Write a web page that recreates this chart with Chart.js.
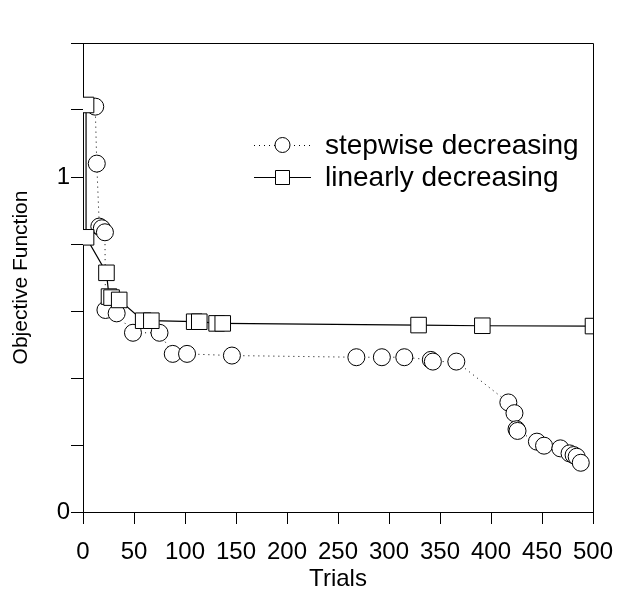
<!DOCTYPE html>
<html>
<head>
<meta charset="utf-8">
<script src="https://cdn.jsdelivr.net/npm/chart.js@4/dist/chart.umd.min.js"></script>
<style>
  html, body { margin: 0; padding: 0; background: #fff; }
  #wrap { width: 622px; height: 597px; }
</style>
</head>
<body>
<div id="wrap"><canvas id="c" width="622" height="597"></canvas></div>
<script>
// Data
const stepTrials = [12, 13.5, 16, 18.5, 21.5, 22, 33, 49, 75, 88, 102, 146, 268, 293, 315, 341, 343, 366, 417, 423, 425, 426, 445, 452, 468, 477, 481, 484, 488];
const stepValues = [1.21, 1.04, 0.852, 0.847, 0.835, 0.603, 0.593, 0.535, 0.535, 0.472, 0.472, 0.467, 0.462, 0.462, 0.462, 0.454, 0.449, 0.449, 0.327, 0.295, 0.247, 0.242, 0.21, 0.198, 0.19, 0.175, 0.17, 0.165, 0.147];
const linTrials = [3, 3, 23, 25.5, 28, 35.5, 59, 67, 109, 114, 131, 137, 329, 391.5, 500];
const linValues = [1.215, 0.82, 0.714, 0.643, 0.64, 0.633, 0.571, 0.571, 0.568, 0.568, 0.563, 0.563, 0.558, 0.556, 0.555];
const seriesNames = ["stepwise decreasing", "linearly decreasing"];
const xTitle = "Trials";
const yTitle = "Objective Function";
const yLabelled = [0, 1];

const FONT = "'Liberation Sans', Arial, Helvetica, sans-serif";

const toXY = (xs, ys) => xs.map((x, i) => ({ x: x, y: ys[i] }));

const boxPlugin = {
  id: 'box',
  afterDraw(chart) {
    const a = chart.chartArea, ctx = chart.ctx;
    ctx.save();
    ctx.strokeStyle = '#000';
    ctx.lineWidth = 1;
    ctx.beginPath();
    ctx.moveTo(a.left, a.top + 0.5);
    ctx.lineTo(a.right + 0.5, a.top + 0.5);
    ctx.lineTo(a.right + 0.5, a.bottom);
    ctx.stroke();
    ctx.restore();
  }
};

const legendPlugin = {
  id: 'customLegend',
  afterDraw(chart) {
    const ctx = chart.ctx;
    ctx.save();
    const rows = [
      { y: 145, dash: [1, 4], style: 'circle' },
      { y: 177, dash: [], style: 'rect' }
    ];
    rows.forEach((r, i) => {
      ctx.strokeStyle = '#000';
      ctx.lineWidth = 1;
      ctx.setLineDash(r.dash);
      ctx.beginPath();
      ctx.moveTo(254, r.y + 0.5);
      ctx.lineTo(311, r.y + 0.5);
      ctx.stroke();
      ctx.setLineDash([]);
      ctx.fillStyle = '#fff';
      ctx.beginPath();
      if (r.style === 'circle') {
        ctx.arc(282.5, r.y, 7.5, 0, Math.PI * 2);
      } else {
        ctx.rect(275.5, r.y - 6.5, 14, 14);
      }
      ctx.fill();
      ctx.stroke();
      ctx.fillStyle = '#000';
      ctx.font = '28px ' + FONT;
      ctx.textBaseline = 'middle';
      ctx.textAlign = 'left';
      ctx.fillText(seriesNames[i], 325, r.y + 1);
    });
    ctx.restore();
  }
};

new Chart(document.getElementById('c'), {
  type: 'line',
  data: {
    datasets: [
      {
        label: seriesNames[1],
        data: toXY(linTrials, linValues),
        borderColor: '#000',
        borderWidth: 1.2,
        pointStyle: 'rect',
        pointRadius: 11,
        pointBackgroundColor: '#fff',
        pointBorderColor: '#000',
        pointBorderWidth: 1,
        tension: 0,
        fill: false
      },
      {
        label: seriesNames[0],
        data: toXY(stepTrials, stepValues),
        borderColor: '#000',
        borderWidth: 1,
        borderDash: [1, 4],
        pointStyle: 'circle',
        pointRadius: 8.5,
        pointBackgroundColor: '#fff',
        pointBorderColor: '#000',
        pointBorderWidth: 1,
        tension: 0,
        fill: false
      }
    ]
  },
  options: {
    responsive: false,
    animation: false,
    devicePixelRatio: 1,
    layout: { padding: { left: 0, top: 43, right: 29, bottom: 0 } },
    plugins: { legend: { display: false }, tooltip: { enabled: false } },
    scales: {
      x: {
        type: 'linear',
        min: 0, max: 500,
        afterFit(s) { s.height = 85; s.paddingLeft = 0; s.paddingRight = 0; },
        ticks: { stepSize: 50, color: '#000', font: { family: FONT, size: 24 }, padding: 14, maxRotation: 0, autoSkip: false },
        grid: { drawOnChartArea: false, tickLength: 12, color: '#000', tickWidth: 1 },
        border: { display: true, color: '#000', width: 1 },
        title: { display: true, text: xTitle, color: '#000', font: { family: FONT, size: 24 }, padding: { top: 0, bottom: 3 } }
      },
      y: {
        type: 'linear',
        min: 0, max: 1.4,
        afterFit(s) { s.width = 83; s.paddingTop = 0; s.paddingBottom = 0; },
        ticks: {
          stepSize: 0.2, color: '#000', font: { family: FONT, size: 24 }, padding: 1, autoSkip: false,
          callback: (v) => yLabelled.some(l => Math.abs(v - l) < 1e-6) ? String(Math.round(v)) : ''
        },
        grid: { drawOnChartArea: false, tickLength: 12, color: '#000', tickWidth: 1 },
        border: { display: true, color: '#000', width: 1 },
        title: { display: true, text: yTitle, color: '#000', font: { family: FONT, size: 21 }, padding: { top: 9, bottom: 0 } }
      }
    }
  },
  plugins: [boxPlugin, legendPlugin]
});
</script>
</body>
</html>
